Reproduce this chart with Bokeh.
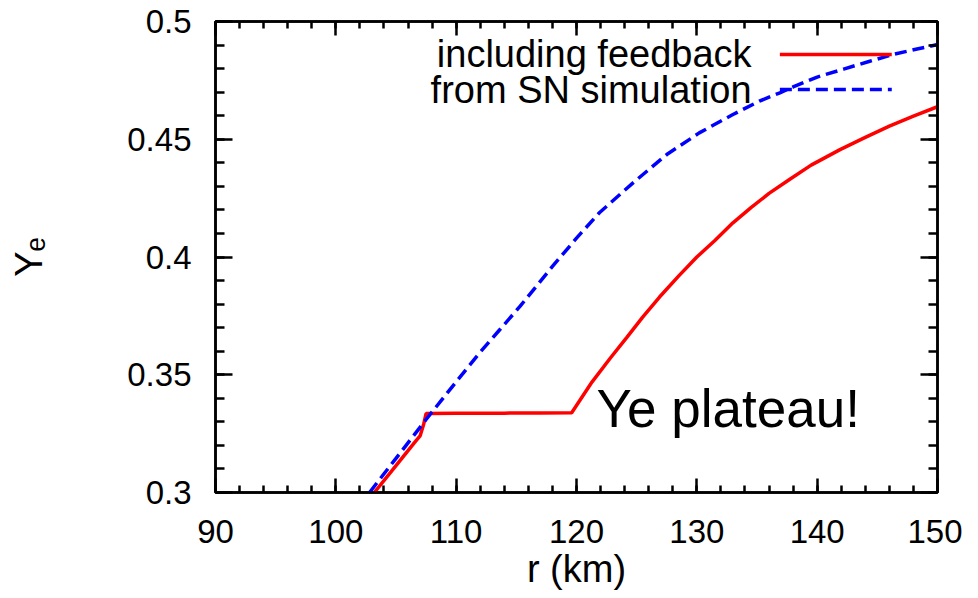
from bokeh.plotting import figure
from bokeh.models import LinearAxis, FixedTicker, Label, Arrow
from bokeh.embed import file_html
from bokeh.resources import INLINE

# ---- data ----
red_r = [103.2, 105.0, 106.5, 107.0, 107.3, 107.5, 110.0, 114.0, 117.0, 119.6,
         121.3, 122.8, 124.2, 125.5, 126.9, 128.5, 130.0, 131.5, 133.0, 134.5,
         136.0, 137.7, 139.5, 141.9, 144.0, 146.0, 148.0, 150.0]
red_ye = [0.300, 0.3114, 0.321, 0.324, 0.329, 0.3335, 0.3336, 0.3337, 0.3338, 0.3339,
          0.347, 0.357, 0.366, 0.3745, 0.383, 0.392, 0.400, 0.407, 0.4145, 0.421,
          0.427, 0.4329, 0.439, 0.4456, 0.4508, 0.4556, 0.4598, 0.4638]

blue_r = [102.8, 105.0, 107.5, 110.0, 111.9, 113.6, 115.3, 118.0, 120.0, 121.9,
          124.7, 127.5, 130.2, 133.0, 135.2, 136.9, 138.0, 140.0, 142.2, 144.3,
          146.3, 148.2, 150.0]
blue_ye = [0.300, 0.3145, 0.331, 0.347, 0.359, 0.369, 0.379, 0.396, 0.408, 0.4188,
           0.4315, 0.4435, 0.4527, 0.4605, 0.4662, 0.4697, 0.4722, 0.4764, 0.4798, 0.483,
           0.486, 0.4882, 0.4902]

x_ticks = [90, 100, 110, 120, 130, 140, 150]
x_minor = [90 + 2 * i for i in range(31)]
y_ticks = [0.3, 0.35, 0.4, 0.45, 0.5]
y_minor = [round(0.3 + 0.01 * i, 2) for i in range(21)]

series_labels = ["including feedback", "from SN simulation"]
annotation_text = "Ye plateau!"
x_label = "r (km)"
y_label = "Y\u2091"

FONT = "Liberation Sans"
RED = "#ff0000"
BLUE = "#0000ff"
DASH = "12 6"

p = figure(width=962, height=592, x_range=(90, 150), y_range=(0.3, 0.5),
           output_backend="svg", toolbar_location=None,
           min_border_left=215, min_border_right=25, min_border_top=21,
           min_border_bottom=100, x_axis_location=None, y_axis_location=None)
p.xgrid.visible = False
p.ygrid.visible = False
p.outline_line_color = "black"
p.outline_line_width = 2.5
p.background_fill_color = "white"
p.border_fill_color = "white"


def style_axis(ax, ticks, minor, show_labels, tick_len, minor_len):
    ax.ticker = FixedTicker(ticks=ticks, minor_ticks=minor)
    ax.axis_line_color = "black"
    ax.axis_line_width = 2.5
    ax.major_tick_line_width = 2.5
    ax.minor_tick_line_width = 2.5
    ax.major_tick_in = tick_len
    ax.major_tick_out = 0
    ax.minor_tick_in = minor_len
    ax.minor_tick_out = 0
    ax.major_label_text_font = FONT
    ax.major_label_text_font_size = "33px"
    ax.major_label_text_color = "black"
    ax.axis_label_text_color = "black"
    ax.axis_label_text_font = FONT
    ax.axis_label_text_font_style = "normal"
    if not show_labels:
        ax.major_label_text_font_size = "0px"
        ax.major_label_text_alpha = 0


xb = LinearAxis()
style_axis(xb, x_ticks, x_minor, True, 14, 7)
xb.major_label_standoff = 27
xb.axis_label = x_label
xb.axis_label_text_font_size = "38px"
xb.axis_label_standoff = 2
p.add_layout(xb, "below")

xt = LinearAxis()
style_axis(xt, x_ticks, x_minor, False, 14, 7)
p.add_layout(xt, "above")

yl = LinearAxis()
style_axis(yl, y_ticks, y_minor, True, 17, 9)
yl.major_label_standoff = 24
yl.axis_label = y_label
yl.axis_label_text_font_size = "38px"
yl.axis_label_standoff = 74
p.add_layout(yl, "left")

yr = LinearAxis()
style_axis(yr, y_ticks, y_minor, False, 17, 9)
p.add_layout(yr, "right")

# curves
p.line(x=red_r, y=red_ye, line_color=RED, line_width=3.5)
p.line(x=blue_r, y=blue_ye, line_color=BLUE, line_width=3.5, line_dash=DASH)

# manual legend (text left, sample right)
leg_text_x = 134.55
leg_line_x0, leg_line_x1 = 136.9, 146.2
leg_rows = [0.486, 0.4711]
for lab, yy, col, dash in zip(series_labels, leg_rows, [RED, BLUE], ["solid", DASH]):
    p.add_layout(Label(x=leg_text_x, y=yy, text=lab, text_align="right",
                       text_baseline="middle", text_font=FONT,
                       text_font_size="38px", text_color="black"))
    p.add_layout(Arrow(end=None, x_start=leg_line_x0, y_start=yy,
                       x_end=leg_line_x1, y_end=yy, line_color=col,
                       line_width=3.5, line_dash=dash))

# annotation
p.add_layout(Label(x=121.67, y=0.3357, text=annotation_text, text_align="left",
                   text_baseline="alphabetic", text_font=FONT,
                   text_font_size="53px", text_color="black"))

open("out.html", "w").write(file_html(p, INLINE))
